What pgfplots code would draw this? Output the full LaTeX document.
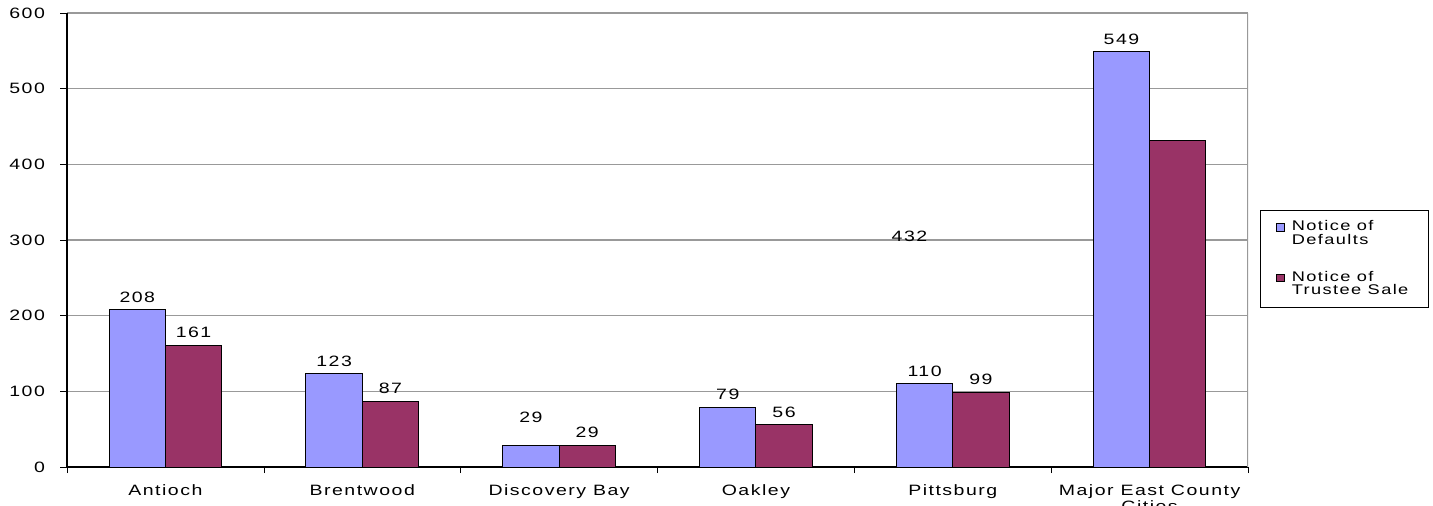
\documentclass[border=0pt]{standalone}
\usepackage{fontspec}
\setmainfont{Liberation Sans}[FakeStretch=1.3, LetterSpace=10]
\usepackage{pgfplots}
\pgfplotsset{compat=1.18}
\definecolor{ndblue}{HTML}{9999FF}
\definecolor{tsred}{HTML}{993366}
\newcommand{\lbl}{\fontsize{7.5}{8}\selectfont}
\begin{document}
\begin{tikzpicture}
\begin{axis}[
    at={(33.5pt,19pt)}, anchor=south west,
    scale only axis, width=590.5pt, height=227pt,
    xmin=-0.5, xmax=5.5, ymin=0, ymax=600,
    ytick={0,100,...,600},
    xtick={0,...,5},
    xticklabels={Antioch,Brentwood,Discovery Bay,Oakley,Pittsburg,{Major East County\\Cities}},
    minor xtick={-0.5,0.5,...,5.5},
    major x tick style={draw=none},
    minor x tick style={black},
    ytick style={black},
    tick align=outside, major tick length=3.5pt, minor tick length=3pt,
    axis x line*=bottom, axis y line*=left,
    axis line style={black, line width=0.6pt},
    ymajorgrids, major grid style={gray!80, line width=0.6pt},
    ticklabel style={font=\lbl},
    xticklabel style={align=center, yshift=-2pt},
    yticklabel style={xshift=-4pt},
    /pgf/number format/assume math mode=true,
    ybar, bar width=0.286,
    legend style={at={(1.0102,0.458)}, anchor=west, draw=black, font=\fontsize{7}{6.6}\selectfont,
        cells={align=left, anchor=west}, row sep=8pt, inner xsep=8pt, inner ysep=3pt},
    legend cell align=left,
    legend image code/.code={\draw[#1,draw=black,line width=0.4pt] (0pt,1.5pt) rectangle (3.6pt,5.1pt);
        \path[draw=none,fill=none] (0pt,2pt) rectangle (5.5pt,3pt);},
    visualization depends on={x \as \xval},
    nodes near coords style={font=\lbl, black},
]
\addplot[fill=ndblue, draw=black, line width=0.5pt, bar shift=-0.143,
    nodes near coords={\ifdim\xval pt=2pt\else\pgfmathprintnumber{\pgfplotspointmeta}\fi}]
    coordinates {(0,208) (1,123) (2,29) (3,79) (4,110) (5,549)};
\addplot[fill=tsred, draw=black, line width=0.5pt, bar shift=0.143,
    nodes near coords={\ifdim\xval pt=5pt\else\pgfmathprintnumber{\pgfplotspointmeta}\fi}]
    coordinates {(0,161) (1,87) (2,29) (3,56) (4,99) (5,432)};
\legend{Notice of\\Defaults, Notice of\\Trustee Sale}
\node[font=\lbl] at (axis cs:1.857,66) {29};
\node[font=\lbl] at (axis cs:3.78,305) {432};
\draw[gray!80, line width=0.6pt] (rel axis cs:1,0) -- (rel axis cs:1,1);
\end{axis}
\pgfresetboundingbox
\useasboundingbox (0,0) rectangle (716.5pt,252.5pt);
\end{tikzpicture}
\end{document}
